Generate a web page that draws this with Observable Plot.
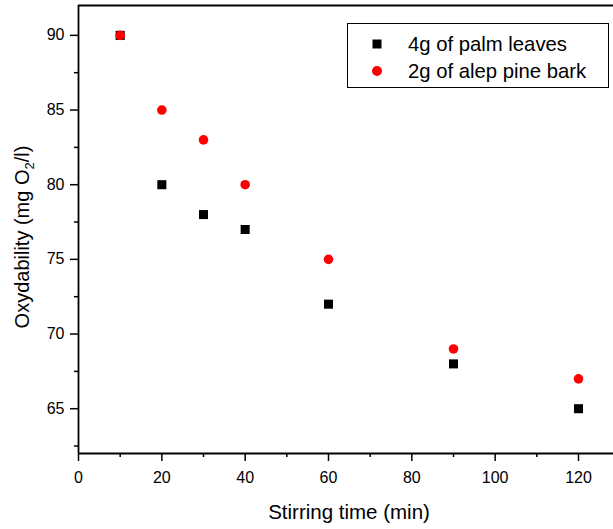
<!DOCTYPE html>
<html>
<head>
<meta charset="utf-8">
<script src="https://cdn.jsdelivr.net/npm/d3@7"></script>
<script src="https://cdn.jsdelivr.net/npm/@observablehq/plot@0.6"></script>
<style>
  html, body { margin: 0; padding: 0; background: #fff; }
  #wrap { position: relative; width: 613px; height: 529px; font-family: "Liberation Sans", Arial, sans-serif; }
  #legend { position: absolute; left: 347px; top: 23px; width: 262px; height: 65px; border: 1px solid #000; box-sizing: border-box; background: #fff; }
  .item { position: absolute; left: 0; height: 24px; display: flex; align-items: center; font-size: 20.3px; color: #000; }
  .item svg { margin-left: 23px; margin-right: 25px; }
</style>
</head>
<body>
<div id="wrap"></div>
<script>
const times = [10, 20, 30, 40, 60, 90, 120];
const palmLeaves = [90, 80, 78, 77, 72, 68, 65];
const alepPineBark = [90, 85, 83, 80, 75, 69, 67];
const seriesNames = ["4g of palm leaves", "2g of alep pine bark"];
const xTicks = [0, 20, 40, 60, 80, 100, 120];
const xMinorTicks = [10, 30, 50, 70, 90, 110];
const yTicks = [65, 70, 75, 80, 85, 90];
const yMinorTicks = [62.5, 67.5, 72.5, 77.5, 82.5, 87.5];

const palm = times.map((t, i) => ({x: t, y: palmLeaves[i]}));
const pine = times.map((t, i) => ({x: t, y: alepPineBark[i]}));

const font = "Liberation Sans, Arial, sans-serif";
const chart = Plot.plot({
  width: 613,
  height: 529,
  marginLeft: 78,
  marginTop: 5,
  marginBottom: 76,
  marginRight: 0,
  style: {fontFamily: font, fontSize: "16px", color: "#000", background: "#fff"},
  x: {domain: [0, 128.4]},
  y: {domain: [62, 92]},
  marks: [
    Plot.axisX({ticks: xTicks, tickSize: 8, tickPadding: 10, fontSize: 16, label: null, tickFormat: d => d, stroke: "#000", strokeWidth: 1.5, strokeOpacity: 1}),
    Plot.axisX({ticks: xMinorTicks, tickSize: 4, tickFormat: () => "", label: null, stroke: "#000", strokeWidth: 1.5, strokeOpacity: 1}),
    Plot.axisY({ticks: yTicks, tickSize: 8, tickPadding: 6, fontSize: 16, label: null, tickFormat: d => d, stroke: "#000", strokeWidth: 1.5, strokeOpacity: 1}),
    Plot.axisY({ticks: yMinorTicks, tickSize: 4, tickFormat: () => "", label: null, stroke: "#000", strokeWidth: 1.5, strokeOpacity: 1}),
    Plot.ruleY([62], {stroke: "#000", strokeWidth: 1.8}),
    Plot.ruleY([92], {stroke: "#000", strokeWidth: 1.8}),
    Plot.ruleX([0], {stroke: "#000", strokeWidth: 1.8}),
    Plot.dot(palm, {x: "x", y: "y", symbol: "square", fill: "#000", r: 5.1}),
    Plot.dot(pine, {x: "x", y: "y", symbol: "circle", fill: "#ff0000", r: 4.8})
  ]
});

const wrap = document.getElementById("wrap");
wrap.appendChild(chart);

const svg = d3.select(chart);
svg.append("text")
  .attr("x", 349).attr("y", 519)
  .attr("text-anchor", "middle")
  .attr("font-size", 20.5).attr("font-family", font).attr("fill", "#000")
  .text("Stirring time (min)");

const yl = svg.append("text")
  .attr("transform", "translate(29,237) rotate(-90)")
  .attr("text-anchor", "middle")
  .attr("font-size", 20).attr("font-family", font).attr("fill", "#000");
yl.append("tspan").text("Oxydability (mg O");
yl.append("tspan").attr("font-size", 13).attr("dy", 5).text("2");
yl.append("tspan").attr("dy", -5).text("/l)");

// legend
const legend = document.createElement("div");
legend.id = "legend";
seriesNames.forEach((name, i) => {
  const item = document.createElement("div");
  item.className = "item";
  item.style.top = (i === 0 ? 8 : 35) + "px";
  const sym = i === 0
    ? '<svg width="12" height="12"><rect x="1.5" y="1.5" width="9" height="9" fill="#000"/></svg>'
    : '<svg width="12" height="12"><circle cx="6" cy="6" r="5" fill="#ff0000"/></svg>';
  item.innerHTML = sym + "<span>" + name + "</span>";
  legend.appendChild(item);
});
wrap.appendChild(legend);
</script>
</body>
</html>
